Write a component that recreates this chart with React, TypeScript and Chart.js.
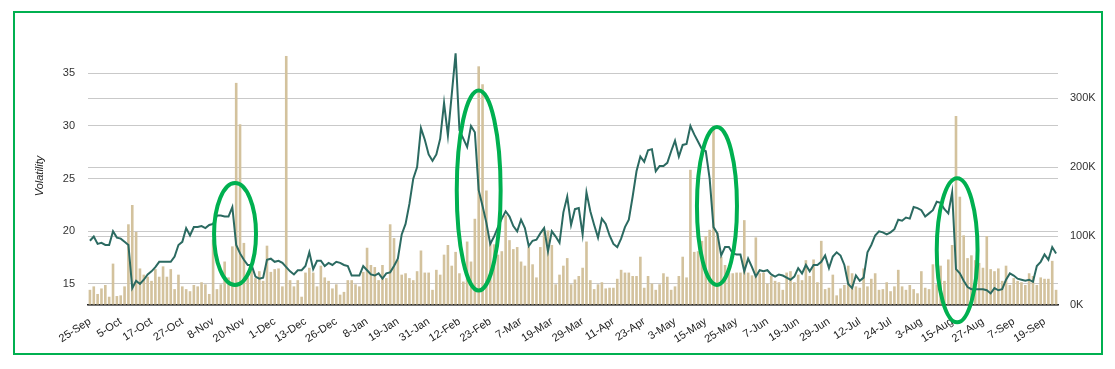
import React, { useEffect, useRef } from "react";
import { Chart, registerables } from "chart.js";

Chart.register(...registerables);

const datesText =
  "25-Sep 26-Sep 27-Sep 28-Sep 29-Sep 2-Oct 3-Oct 4-Oct " +
  "5-Oct 6-Oct 9-Oct 10-Oct 11-Oct 12-Oct 13-Oct 16-Oct " +
  "17-Oct 18-Oct 19-Oct 20-Oct 23-Oct 24-Oct 25-Oct 26-Oct " +
  "27-Oct 30-Oct 31-Oct 1-Nov 2-Nov 3-Nov 6-Nov 7-Nov " +
  "8-Nov 9-Nov 10-Nov 13-Nov 14-Nov 15-Nov 16-Nov 17-Nov " +
  "20-Nov 21-Nov 22-Nov 24-Nov 27-Nov 28-Nov 29-Nov 30-Nov " +
  "1-Dec 4-Dec 5-Dec 6-Dec 7-Dec 8-Dec 11-Dec 12-Dec " +
  "13-Dec 14-Dec 15-Dec 18-Dec 19-Dec 20-Dec 21-Dec 22-Dec " +
  "26-Dec 27-Dec 28-Dec 29-Dec 2-Jan 3-Jan 4-Jan 5-Jan " +
  "8-Jan 9-Jan 10-Jan 11-Jan 12-Jan 16-Jan 17-Jan 18-Jan " +
  "19-Jan 22-Jan 23-Jan 24-Jan 25-Jan 26-Jan 29-Jan 30-Jan " +
  "31-Jan 1-Feb 2-Feb 5-Feb 6-Feb 7-Feb 8-Feb 9-Feb " +
  "12-Feb 13-Feb 14-Feb 15-Feb 16-Feb 20-Feb 21-Feb 22-Feb " +
  "23-Feb 26-Feb 27-Feb 28-Feb 1-Mar 2-Mar 5-Mar 6-Mar " +
  "7-Mar 8-Mar 9-Mar 12-Mar 13-Mar 14-Mar 15-Mar 16-Mar " +
  "19-Mar 20-Mar 21-Mar 22-Mar 23-Mar 26-Mar 27-Mar 28-Mar " +
  "29-Mar 2-Apr 3-Apr 4-Apr 5-Apr 6-Apr 9-Apr 10-Apr " +
  "11-Apr 12-Apr 13-Apr 16-Apr 17-Apr 18-Apr 19-Apr 20-Apr " +
  "23-Apr 24-Apr 25-Apr 26-Apr 27-Apr 30-Apr 1-May 2-May " +
  "3-May 4-May 7-May 8-May 9-May 10-May 11-May 14-May " +
  "15-May 16-May 17-May 18-May 21-May 22-May 23-May 24-May " +
  "25-May 29-May 30-May 31-May 1-Jun 4-Jun 5-Jun 6-Jun " +
  "7-Jun 8-Jun 11-Jun 12-Jun 13-Jun 14-Jun 15-Jun 18-Jun " +
  "19-Jun 20-Jun 21-Jun 22-Jun 25-Jun 26-Jun 27-Jun 28-Jun " +
  "29-Jun 2-Jul 3-Jul 5-Jul 6-Jul 9-Jul 10-Jul 11-Jul " +
  "12-Jul 13-Jul 16-Jul 17-Jul 18-Jul 19-Jul 20-Jul 23-Jul " +
  "24-Jul 25-Jul 26-Jul 27-Jul 30-Jul 31-Jul 1-Aug 2-Aug " +
  "3-Aug 6-Aug 7-Aug 8-Aug 9-Aug 10-Aug 13-Aug 14-Aug " +
  "15-Aug 16-Aug 17-Aug 20-Aug 21-Aug 22-Aug 23-Aug 24-Aug " +
  "27-Aug 28-Aug 29-Aug 30-Aug 31-Aug 4-Sep 5-Sep 6-Sep " +
  "7-Sep 10-Sep 11-Sep 12-Sep 13-Sep 14-Sep 17-Sep 18-Sep " +
  "19-Sep 20-Sep 21-Sep 24-Sep";
const dates: string[] = datesText.split(" ");

const volatility: number[] = [
  19.1, 19.5, 18.8, 18.9, 18.7, 18.7, 20.0, 19.4, 19.3, 19.0,
  18.7, 14.6, 15.3, 15.0, 15.4, 15.9, 16.2, 16.6, 17.1, 17.1,
  17.1, 17.1, 17.6, 18.7, 19.0, 20.3, 19.6, 20.4, 20.4, 20.5,
  20.3, 20.6, 20.7, 21.5, 21.5, 21.4, 21.4, 22.3, 18.7, 17.9,
  17.3, 16.8, 16.8, 15.7, 15.5, 15.6, 17.3, 17.4, 17.1, 17.2,
  17.0, 16.6, 16.2, 15.9, 16.3, 16.3, 16.7, 18.0, 16.4, 17.2,
  17.2, 16.7, 17.0, 16.8, 17.1, 17.0, 16.8, 16.7, 15.8, 15.8,
  15.8, 16.7, 16.3, 15.9, 15.8, 16.0, 15.5, 16.0, 16.1, 16.7,
  17.4, 19.7, 20.7, 22.6, 25.0, 26.1, 29.8, 28.7, 27.3, 26.7,
  27.3, 28.8, 32.2, 29.1, 33.0, 36.9, 29.6, 28.8, 28.0, 30.0,
  29.4, 23.9, 22.4, 20.8, 18.8, 19.5, 20.4, 21.2, 21.9, 21.4,
  20.5, 20.0, 21.1, 20.3, 18.6, 19.1, 19.2, 19.8, 20.3, 18.1,
  20.0, 19.5, 18.9, 21.8, 23.3, 20.6, 22.1, 22.2, 19.7, 23.7,
  21.9, 20.6, 19.4, 21.2, 20.7, 19.6, 18.8, 18.5, 19.3, 20.4,
  21.1, 23.3, 25.7, 27.1, 26.6, 27.7, 27.8, 25.7, 26.2, 26.2,
  26.5, 27.6, 28.6, 27.1, 28.2, 28.3, 30.0, 29.2, 28.5, 27.8,
  27.6, 25.0, 20.4, 19.8, 17.7, 18.5, 18.5, 17.9, 17.8, 17.8,
  16.2, 17.4, 16.6, 15.7, 16.3, 16.2, 16.3, 15.9, 15.7, 15.9,
  15.8, 15.6, 15.4, 15.7, 16.5, 16.0, 16.8, 16.2, 16.8, 16.8,
  17.1, 17.7, 16.5, 17.6, 18.0, 17.7, 16.8, 15.0, 14.6, 15.8,
  15.3, 15.6, 18.0, 18.7, 19.6, 20.0, 19.9, 19.7, 19.9, 20.2,
  21.1, 21.0, 21.3, 21.2, 22.3, 22.2, 22.0, 21.4, 21.7, 22.0,
  22.8, 22.7, 22.1, 21.7, 23.7, 16.4, 16.0, 15.3, 14.7, 14.5,
  14.5, 14.5, 14.5, 14.4, 14.1, 14.6, 14.4, 14.5, 15.4, 16.0,
  15.8, 15.5, 15.4, 15.3, 15.4, 15.2, 16.7, 17.1, 17.8, 17.3,
  18.5, 17.9,
];

// volume in thousands
const volumeK: number[] = [
  22, 27, 16, 24, 29, 12, 60, 13, 14, 27,
  117, 145, 106, 53, 44, 41, 35, 52, 41, 56,
  41, 52, 23, 44, 27, 23, 20, 29, 27, 33,
  30, 16, 95, 23, 30, 63, 40, 85, 322, 262,
  90, 40, 56, 39, 49, 35, 86, 48, 52, 53,
  27, 361, 36, 27, 36, 12, 47, 54, 47, 27,
  57, 40, 35, 24, 30, 15, 19, 36, 36, 30,
  27, 48, 83, 58, 55, 36, 58, 39, 117, 97,
  65, 44, 46, 39, 36, 49, 79, 47, 47, 22,
  51, 44, 73, 87, 57, 77, 46, 34, 92, 63,
  125, 346, 320, 166, 92, 88, 73, 78, 130, 94,
  81, 84, 63, 57, 84, 59, 40, 84, 109, 108,
  87, 30, 44, 57, 68, 30, 37, 42, 54, 92,
  36, 23, 30, 33, 24, 25, 25, 38, 51, 47,
  47, 42, 42, 70, 25, 42, 31, 22, 30, 46,
  41, 22, 27, 42, 70, 40, 196, 77, 78, 93,
  100, 109, 259, 105, 70, 58, 46, 46, 47, 47,
  123, 47, 43, 98, 46, 47, 31, 42, 35, 33,
  22, 47, 49, 33, 44, 36, 65, 42, 66, 33,
  93, 23, 25, 44, 14, 24, 29, 57, 46, 27,
  25, 53, 27, 38, 46, 22, 23, 33, 20, 27,
  51, 27, 22, 29, 23, 17, 49, 25, 23, 59,
  30, 57, 35, 66, 87, 274, 157, 101, 68, 72,
  65, 61, 54, 100, 52, 49, 53, 35, 57, 29,
  39, 35, 33, 29, 46, 42, 29, 40, 38, 38,
  64, 22,
];

const volTicks: number[] = [15, 20, 25, 30, 35];
const volumeTicks: number[] = [0, 100000, 200000, 300000];

// highlight ellipses, in data units: centre index, centre volatility, half-width (days), half-height (volatility)
const highlightIdx: number[] = [37.7, 101.0, 162.9, 225.3];
const highlightVal: number[] = [19.74, 23.87, 22.4, 18.2];
const highlightHalfIdx: number[] = [5.45, 5.7, 5.2, 5.3];
const highlightHalfVal: number[] = [4.84, 9.5, 7.5, 6.84];

const FONT = "'Liberation Sans', Arial, Helvetica, sans-serif";
const GREEN = "#00b050";

const ellipsePlugin = {
  id: "highlightEllipses",
  afterDraw(chart: any) {
    const { ctx, scales } = chart;
    const xs = scales.x;
    const ys = scales.y;
    ctx.save();
    ctx.strokeStyle = GREEN;
    ctx.lineWidth = 4;
    for (let k = 0; k < highlightIdx.length; k++) {
      const cx = xs.getPixelForValue(highlightIdx[k]);
      const cy = ys.getPixelForValue(highlightVal[k]);
      const rx = Math.abs(xs.getPixelForValue(highlightIdx[k] + highlightHalfIdx[k]) - cx);
      const ry = Math.abs(ys.getPixelForValue(highlightVal[k] + highlightHalfVal[k]) - cy);
      ctx.beginPath();
      ctx.ellipse(cx, cy, rx, ry, 0, 0, Math.PI * 2);
      ctx.stroke();
    }
    ctx.restore();
  },
};

export default function App() {
  const ref = useRef<HTMLCanvasElement | null>(null);

  useEffect(() => {
    if (!ref.current) return;
    const chart = new Chart(ref.current, {
      type: "bar",
      data: {
        labels: dates,
        datasets: [
          {
            type: "line",
            label: "Volatility",
            data: volatility,
            yAxisID: "y",
            borderColor: "#2b6a61",
            borderWidth: 2,
            pointRadius: 0,
            tension: 0,
            order: 0,
          } as any,
          {
            type: "bar",
            label: "Volume",
            data: volumeK.map((v) => v * 1000),
            yAxisID: "y1",
            backgroundColor: "#d3c29d",
            barPercentage: 0.68,
            categoryPercentage: 1,
            order: 1,
          } as any,
        ],
      },
      options: {
        animation: false,
        responsive: false,
        maintainAspectRatio: false,
        layout: { padding: { top: 47, left: 0, right: 0, bottom: 0 } },
        plugins: { legend: { display: false }, tooltip: { enabled: false } },
        scales: {
          x: {
            grid: { display: false },
            border: { display: true, color: "#222", width: 1.5 },
            ticks: {
              autoSkip: false,
              minRotation: 33,
              maxRotation: 33,
              padding: 2,
              color: "#222",
              font: { family: FONT, size: 11 },
              callback: (_v: any, i: number) => (i % 8 === 0 ? dates[i] : null),
            },
            afterFit: (s: any) => {
              s.height = 64;
            },
          },
          y: {
            position: "left",
            min: 13,
            max: 37.5,
            afterBuildTicks: (s: any) => {
              s.ticks = volTicks.map((v) => ({ value: v }));
            },
            grid: { color: "#c9c9c9", lineWidth: 1, drawTicks: false },
            border: { display: false },
            ticks: { padding: 13, color: "#333", font: { family: FONT, size: 11 } },
            title: {
              display: true,
              text: "Volatility",
              color: "#222",
              font: { family: FONT, size: 11, style: "italic" },
              padding: { top: 33, bottom: 0 },
            },
            afterFit: (s: any) => {
              s.width = 88;
            },
          },
          y1: {
            position: "right",
            min: 0,
            max: 374000,
            afterBuildTicks: (s: any) => {
              s.ticks = volumeTicks.map((v) => ({ value: v }));
            },
            grid: { color: "#c9c9c9", lineWidth: 1, drawTicks: false },
            border: { display: false },
            ticks: {
              padding: 12,
              color: "#333",
              font: { family: FONT, size: 11 },
              callback: (v: any) => Math.round(Number(v) / 1000) + "K",
            },
            afterFit: (s: any) => {
              s.width = 57;
            },
          },
        },
      } as any,
      plugins: [ellipsePlugin],
    });
    return () => chart.destroy();
  }, []);

  return (
    <div style={{ position: "fixed", left: 0, top: 0, width: 1115, height: 369, background: "#fff" }}>
      <canvas ref={ref} width={1115} height={369} style={{ display: "block", width: 1115, height: 369 }} />
      <div
        style={{
          position: "absolute",
          left: 13,
          top: 11,
          width: 1086,
          height: 340,
          border: `2px solid ${GREEN}`,
          pointerEvents: "none",
        }}
      />
    </div>
  );
}
